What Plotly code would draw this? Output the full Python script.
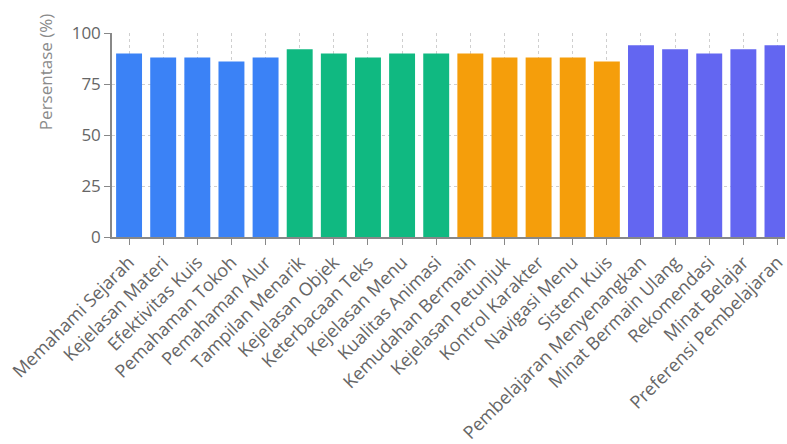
import plotly.graph_objects as go

categories = ["Memahami Sejarah", "Kejelasan Materi", "Efektivitas Kuis", "Pemahaman Tokoh", "Pemahaman Alur",
              "Tampilan Menarik", "Kejelasan Objek", "Keterbacaan Teks", "Kejelasan Menu", "Kualitas Animasi",
              "Kemudahan Bermain", "Kejelasan Petunjuk", "Kontrol Karakter", "Navigasi Menu", "Sistem Kuis",
              "Pembelajaran Menyenangkan", "Minat Bermain Ulang", "Rekomendasi", "Minat Belajar", "Preferensi Pembelajaran"]
values = [90, 88, 88, 86, 88,
          92, 90, 88, 90, 90,
          90, 88, 88, 88, 86,
          94, 92, 90, 92, 94]
groups = ["materi"] * 5 + ["tampilan"] * 5 + ["kontrol"] * 5 + ["minat"] * 5
group_colors = {"materi": "#3B82F6", "tampilan": "#10B981", "kontrol": "#F59E0B", "minat": "#6366F1"}
y_ticks = [0, 25, 50, 75, 100]

fig = go.Figure(go.Bar(
    x=categories, y=values,
    marker=dict(color=[group_colors[g] for g in groups], line=dict(width=0)),
))

fig.update_layout(
    width=787, height=444,
    margin=dict(l=112, r=0, t=33, b=204),
    plot_bgcolor="white", paper_bgcolor="white",
    font=dict(family="Open Sans", size=15, color="#666666"),
    bargap=0.24,
    showlegend=False,
    annotations=[dict(
        text="Persentase (%)", textangle=-90,
        xref="paper", yref="paper", x=-0.099, y=0.81,
        xanchor="center", yanchor="middle", showarrow=False,
        font=dict(size=17, color="#8a8a8a"),
    )],
)
fig.update_xaxes(
    range=[-0.5, 19.22],
    tickangle=-45,
    showline=True, linecolor="#888888", linewidth=1.5,
    ticks="outside", ticklen=6, tickcolor="#888888",
    showgrid=True, gridcolor="#cfcfcf", griddash="3px,3px", gridwidth=1,
    tickfont=dict(size=18, color="#666666"),
)
fig.update_yaxes(
    range=[0, 100], tickvals=y_ticks,
    showline=True, linecolor="#888888", linewidth=1.5,
    ticks="outside", ticklen=6, tickcolor="#888888",
    showgrid=True, gridcolor="#cfcfcf", griddash="3px,3px", gridwidth=1,
    zeroline=False,
    tickfont=dict(size=17, color="#666666"),
)

fig.write_html("out.html")
